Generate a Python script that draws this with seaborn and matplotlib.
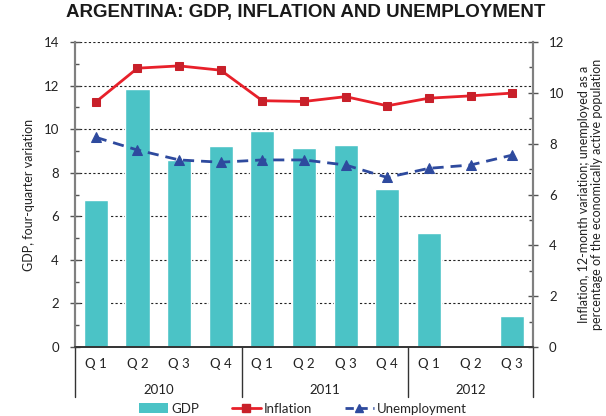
import numpy as np
import pandas as pd
import matplotlib
matplotlib.use("Agg")
import matplotlib.pyplot as plt
import matplotlib.transforms as mtransforms
from matplotlib.lines import Line2D
from matplotlib.patches import Patch
import seaborn as sns

years = ["2010", "2011", "2012"]
quarters_per_year = [4, 4, 3]
quarter_labels = ["Q 1", "Q 2", "Q 3", "Q 4", "Q 1", "Q 2", "Q 3", "Q 4", "Q 1", "Q 2", "Q 3"]
gdp = [6.75, 11.84, 8.58, 9.22, 9.91, 9.12, 9.28, 7.27, 5.22, 0.05, 1.41]
inflation = [9.64, 10.97, 11.06, 10.89, 9.69, 9.66, 9.85, 9.49, 9.79, 9.88, 9.99]
unemployment = [8.25, 7.75, 7.36, 7.27, 7.36, 7.36, 7.16, 6.67, 7.03, 7.16, 7.55]

sns.set_style("white")
plt.rcParams["font.family"] = ["Lato", "DejaVu Sans"]

ids = [f"{q}-{i}" for i, q in enumerate(quarter_labels)]
df = pd.DataFrame({"id": ids, "pos": np.arange(len(ids)), "gdp": gdp,
                   "inflation": inflation, "unemployment": unemployment})

fig = plt.figure(figsize=(6.06, 4.16), dpi=100)
ax = fig.add_axes([75 / 606, 1 - 347 / 416, (533 - 75) / 606, (347 - 42) / 416])

bar_color = "#4BC3C6"
sns.barplot(data=df, x="id", y="gdp", color=bar_color, width=0.58, ax=ax,
            saturation=1, zorder=2)
ax.set_xlim(-0.5, len(ids) - 0.5)
ax.set_ylim(0, 14)
ax.set_yticks(np.arange(0, 15, 2))
ax.set_yticks(np.arange(1, 14, 2), minor=True)
ax.yaxis.grid(True, which="major", linestyle=(0, (2, 2)), color="#222222", linewidth=0.8)
ax.set_axisbelow(True)
ax.set_xticks(np.arange(len(ids)))
ax.set_xticklabels(quarter_labels, fontsize=9.5, color="#222222")
ax.tick_params(axis="x", length=0, pad=8)
ax.tick_params(axis="y", which="major", direction="inout", length=7, width=1,
               color="#555555", labelsize=9.5, labelcolor="#222222", pad=8)
ax.tick_params(axis="y", which="minor", direction="in", length=3, width=1, color="#555555")
ax.set_xlabel("")
ax.set_ylabel("GDP, four-quarter variation", fontsize=9, color="#222222", labelpad=6)

ax2 = ax.twinx()
red = "#E8202A"
blue = "#2E4A9E"
sns.lineplot(data=df, x="pos", y="inflation", ax=ax2, color=red, linewidth=2,
             marker="s", markersize=5.5, markerfacecolor="#C8202A",
             markeredgecolor="#C8202A", zorder=4)
sns.lineplot(data=df, x="pos", y="unemployment", ax=ax2, color=blue, linewidth=2,
             linestyle=(0, (4, 2.5)), marker="^", markersize=6.5,
             markerfacecolor=blue, markeredgecolor=blue, zorder=4)
ax2.set_ylim(0, 12)
ax2.set_yticks(np.arange(0, 13, 2))
ax2.set_yticks(np.arange(1, 12, 2), minor=True)
ax2.tick_params(axis="y", which="major", direction="inout", length=7, width=1,
                color="#555555", labelsize=9.5, labelcolor="#222222", pad=8)
ax2.tick_params(axis="y", which="minor", direction="in", length=3, width=1, color="#555555")
ax2.set_xlabel("")
ax2.set_ylabel("Inflation, 12-month variation; unemployed as a\n"
               "percentage of the economically active population",
               fontsize=9, color="#222222", labelpad=10, linespacing=1.1)
ax2.set_xlim(-0.5, len(ids) - 0.5)

for a in (ax, ax2):
    a.spines["top"].set_visible(False)
    a.spines["left"].set_color("#808080")
    a.spines["right"].set_color("#808080")
    a.spines["left"].set_linewidth(1.5)
    a.spines["right"].set_linewidth(1.5)
    a.spines["bottom"].set_color("#333333")
    a.spines["bottom"].set_linewidth(1.2)

# year group labels and separators
trans = mtransforms.blended_transform_factory(ax.transData, ax.transAxes)
bounds = np.concatenate([[0], np.cumsum(quarters_per_year)]) - 0.5
for b in bounds:
    ax.plot([b, b], [0, -0.165], transform=trans, color="#333333", linewidth=1,
            clip_on=False)
for i, y in enumerate(years):
    mid = (bounds[i] + bounds[i + 1]) / 2
    ax.text(mid, -0.14, y, transform=trans, ha="center", va="center",
            fontsize=9.5, color="#222222")

fig.suptitle("ARGENTINA: GDP, INFLATION AND UNEMPLOYMENT", x=0.505, y=0.99,
             fontsize=13.5, fontweight="bold", family=["Liberation Sans", "DejaVu Sans"],
             color="#1a1a1a")

handles = [Patch(facecolor=bar_color, edgecolor="none"),
           Line2D([], [], color=red, linewidth=2, marker="s", markersize=5.5,
                  markerfacecolor="#C8202A", markeredgecolor="#C8202A"),
           Line2D([], [], color=blue, linewidth=2, linestyle=(0, (3, 2)), marker="^",
                  markersize=6, markerfacecolor=blue, markeredgecolor=blue)]
fig.legend(handles, ["GDP", "Inflation", "Unemployment"], loc="center",
           bbox_to_anchor=(0.5, 0.018), ncol=3, frameon=False, fontsize=9.5,
           handlelength=2.2, handletextpad=0.2, columnspacing=2.5,
           borderaxespad=0, borderpad=0)

fig.savefig("out.png", dpi=100)
